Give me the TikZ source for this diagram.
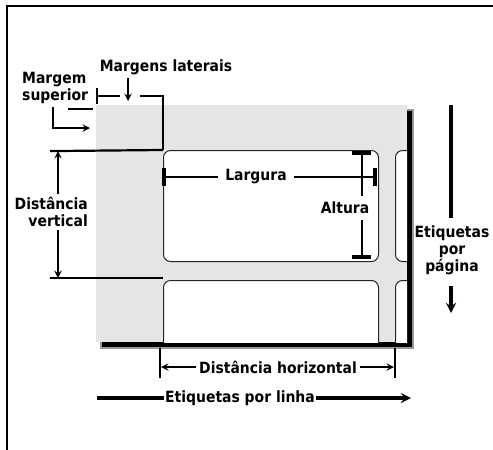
\documentclass[tikz,border=0pt]{standalone}
\usepackage{fontspec}
\setmainfont{DejaVu Sans Condensed}
\usetikzlibrary{arrows,positioning}

\begin{document}
\begin{tikzpicture}[x=1pt, y=-1pt,
    lbl/.style={font=\fontsize{15.5}{17}\selectfont\bfseries, inner xsep=3pt, inner ysep=3pt, align=center},
    dim/.style={line width=2.2pt},
    tick/.style={line width=3.2pt},
    arrow/.style={->, >=stealth, line width=2.2pt},
    bigline/.style={line width=3.4pt},
    bigarrow/.style={->, >=stealth, line width=3.4pt},
    tag/.style={draw=black!85, fill=white, rounded corners=7pt, line width=1pt, minimum width=215pt, minimum height=111pt, anchor=north west, inner sep=0pt}]

    \useasboundingbox (0,0) rectangle (493,450);
    \draw[line width=1.8pt] (7,451) -- (7,6) -- (494,6);

    % page with shadow
    \fill[black!40] (100,109) rectangle (414,349);
    \fill[black] (102,111) rectangle (412,347);
    \fill[black!10] (96,105) rectangle (407,342);
    \begin{scope}
        \clip (96,105) rectangle (407,342);
        \node[tag] (tag1) at (163,150) {};
        \node[tag] (tag2) at (395,150) {};
        \node[tag] (tag3) at (163,280) {};
        \node[tag] (tag4) at (395,280) {};
    \end{scope}

    % texts
    \node[lbl] (ml) at (166,67) {Margens laterais};
    \node[lbl, align=left, anchor=west] (ms) at (19,88) {Margem\\superior};
    \node[lbl, align=right, anchor=east] (dv) at (91,212) {Distância\\vertical};
    \node[lbl] (lg) at (256,177) {Largura};
    \node[lbl] (al) at (345,208) {Altura};
    \node[lbl] (ep) at (452,250) {Etiquetas\\por\\página};
    \node[lbl] (dh) at (278,367) {Distância horizontal};
    \node[lbl, inner xsep=1pt] (el) at (240,398) {Etiquetas por linha};

    \coordinate (dvtop) at (58,151);
    \coordinate (dvbot) at (58,278);

    % margem superior
    \draw[dim] (68,109) -- (93,109);
    \draw[arrow] ([xshift=34pt]ms.south west) |- (90,128);

    % margens laterais
    \draw[dim] (97,88) -- (97,104);
    \draw[dim] (97,96) -- (120,96);
    \draw[arrow] ([xshift=-38pt]ml.south) -- (128,101);
    \draw[dim] (140,96) -- (163,96) -- (tag1.north west);

    % distancia vertical
    \draw[dim] (50,151) -- (dvtop) -- (tag1.north west);
    \draw[dim] (50,278) -- (dvbot) -- (163,278);
    \draw[arrow] (dv.north -| dvtop) -- (dvtop);
    \draw[arrow] (dv.south -| dvbot) -- (dvbot);

    % largura
    \draw[dim] (165,177) -- ([xshift=-4pt]lg.west);
    \draw[dim] ([xshift=4pt]lg.east) -- (375,177);
    \draw[tick] (164,168) -- (164,186);
    \draw[tick] (375,168) -- (375,186);

    % altura
    \draw[dim] (362,153) -- (362 ,196);
    \draw[dim] (362,220) -- (362,257);
    \draw[tick] (352,153) -- (371,153);
    \draw[tick] (352,257) -- (371,257);

    % etiquetas por pagina
    \draw[bigline] (451,105) -- ([yshift=4pt]ep.north -| 451,0);
    \draw[bigarrow] ([yshift=-8pt]ep.south -| 451,0) -- (451,313);

    % distancia horizontal
    \draw[dim] (160,348) -- (160,378);
    \draw[dim] (395,348) -- (395,378);
    \draw[arrow] (dh.west) -- (161,367);
    \draw[arrow] (dh.east) -- (394,367);

    % etiquetas por linha
    \draw[bigline] (97,398) -- (el.west);
    \draw[bigarrow] (el.east) -- (411,398);

\end{tikzpicture}
\end{document}
